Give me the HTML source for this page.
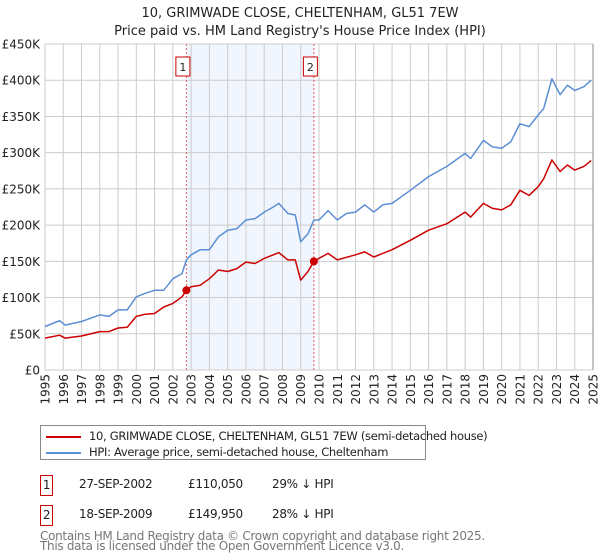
<!DOCTYPE html>
<html><head><meta charset="utf-8"><style>
body{margin:0;background:#fff;font-family:"Liberation Sans","DejaVu Sans",sans-serif;}
#wrap{position:relative;width:600px;height:560px;overflow:hidden;}
text{font-family:"DejaVu Sans","Liberation Sans",sans-serif;}
.tb div{white-space:nowrap;}
</style></head><body><div id="wrap">
<svg id="chart" width="600" height="560"></svg>
</div>
<script>
const yTicks=[0,50,100,150,200,250,300,350,400,450];
const yTickLabels=["£0","£50K","£100K","£150K","£200K","£250K","£300K","£350K","£400K","£450K"];
const xYears=[1995,1996,1997,1998,1999,2000,2001,2002,2003,2004,2005,2006,2007,2008,2009,2010,2011,2012,2013,2014,2015,2016,2017,2018,2019,2020,2021,2022,2023,2024,2025];
const hpiT=[1995,1995.8,1996.1,1997,1998,1998.5,1999,1999.5,2000,2000.5,2001,2001.5,2002,2002.5,2002.74,2003,2003.5,2004,2004.5,2005,2005.5,2006,2006.5,2007,2007.5,2007.8,2008.3,2008.7,2009.0,2009.4,2009.72,2010,2010.5,2011,2011.5,2012,2012.5,2013,2013.5,2014,2015,2016,2017,2018,2018.3,2019,2019.5,2020,2020.5,2021,2021.5,2022,2022.3,2022.75,2023.2,2023.6,2024,2024.5,2024.9];
const hpiV=[60,68,62,67,76,74,83,83,101,106,110,110,126,133,152,159,166,166,184,193,195,207,209,218,225,230,216,214,177,188,207,207,220,207,216,218,228,218,228,230,248,267,281,299,292,317,308,306,315,340,336,352,361,402,380,393,386,391,400];
const saleT=[1995,1995.8,1996.1,1997,1998,1998.5,1999,1999.5,2000,2000.5,2001,2001.5,2002,2002.5,2002.74,2003,2003.5,2004,2004.5,2005,2005.5,2006,2006.5,2007,2007.5,2007.8,2008.3,2008.7,2009.0,2009.4,2009.72,2010,2010.5,2011,2012,2012.5,2013,2014,2015,2016,2017,2018,2018.3,2019,2019.5,2020,2020.5,2021,2021.5,2022,2022.3,2022.75,2023.2,2023.6,2024,2024.5,2024.9];
const saleV=[44,48,44,47,53,53,58,59,74,77,78,87,92,101,110,115,117,126,138,136,140,149,147,154,159,162,152,152,124,136,150,154,161,152,159,163,156,166,179,193,202,218,211,230,223,221,228,248,241,253,264,290,274,283,276,281,289];
const saleDates=[2002.74,2009.72];
const salePrices=[110.05,149.95];
const saleLabels=["1","2"];
const NS="http://www.w3.org/2000/svg";
const svg=document.getElementById('chart');
const L=45,R=593,T=44,B=370;
const x=t=>L+(t-1995)*(R-L)/30;
const y=v=>B-v*(B-T)/450;
function mk(tag,attrs,parent){const e=document.createElementNS(NS,tag);for(const k in attrs)e.setAttribute(k,attrs[k]);(parent||svg).appendChild(e);return e;}
let t1=mk('text',{x:300,y:17,'text-anchor':'middle','font-size':13,fill:'#222'});t1.textContent="10, GRIMWADE CLOSE, CHELTENHAM, GL51 7EW";


let t2=mk('text',{x:300,y:35,'text-anchor':'middle','font-size':13,fill:'#222'});t2.textContent="Price paid vs. HM Land Registry's House Price Index (HPI)";


let sh=mk('rect',{x:x(saleDates[0]),y:T,width:x(saleDates[1])-x(saleDates[0]),height:B-T,fill:'#f1f5fd'});


yTicks.forEach((v,i)=>{
 let g=mk('line',{x1:L,x2:R,y1:y(v),y2:y(v),stroke:'#cccccc','stroke-width':1});
 
 
 let lb=mk('text',{x:40,y:y(v)+4.5,'text-anchor':'end','font-size':12,fill:'#222'});lb.textContent=yTickLabels[i];
 
 
});
xYears.forEach(yr=>{
 let g=mk('line',{x1:x(yr),x2:x(yr),y1:T,y2:B,stroke:'#cccccc','stroke-width':1});
 
 
 let lb=mk('text',{x:0,y:0,'text-anchor':'end','font-size':12,fill:'#222',transform:`translate(${x(yr)+4.5},374) rotate(-90)`});lb.textContent=yr;
 
 
});
let ax=mk('line',{x1:R,x2:R,y1:T,y2:B,stroke:'#888','stroke-width':1});


saleDates.forEach((d,i)=>{
 let vl=mk('line',{x1:x(d),x2:x(d),y1:T,y2:B,stroke:'#e06060','stroke-width':1,'stroke-dasharray':'2,2'});
 
 
 let bx=mk('rect',{x:x(d)-10.5,y:57,width:14,height:19,fill:'#fff',stroke:'#cc0000','stroke-width':1});
 
 
 let tx=mk('text',{x:x(d)-3.5,y:71,'text-anchor':'middle','font-size':11,fill:'#222'});tx.textContent=saleLabels[i];
 
 
});
function path(ts,vs,color,name){
 let d=ts.map((t,i)=>(i?'L':'M')+x(t).toFixed(1)+','+y(vs[i]).toFixed(1)).join('');
 let p=mk('path',{d:d,fill:'none',stroke:color,'stroke-width':1.5,'stroke-linejoin':'round'});
 
 
}
path(hpiT,hpiV,'#5b8fd4','hpi-line');
path(saleT,saleV,'#cc0000','property-price-line');
saleDates.forEach((d,i)=>{
 let c=mk('circle',{cx:x(d),cy:y(salePrices[i]),r:4,fill:'#cc0000'});
 
 
});
</script>
<div style="position:absolute;left:40px;top:425px;width:386px;height:35px;border:1px solid #888;box-sizing:border-box;font-size:11.5px;color:#222;font-family:'DejaVu Sans','Liberation Sans',sans-serif;letter-spacing:-0.3px;">
 <div style="position:absolute;left:5px;top:3px;white-space:nowrap;"><span style="display:inline-block;width:35px;height:2px;background:#cc0000;vertical-align:middle;margin-right:8px;"></span>10, GRIMWADE CLOSE, CHELTENHAM, GL51 7EW (semi-detached house)</div>
 <div style="position:absolute;left:5px;top:19px;white-space:nowrap;"><span style="display:inline-block;width:35px;height:2px;background:#5b8fd4;vertical-align:middle;margin-right:8px;"></span>HPI: Average price, semi-detached house, Cheltenham</div>
</div>
<div class="tb" style="position:absolute;left:0;top:0;width:600px;font-size:12px;color:#222;font-family:'DejaVu Sans','Liberation Sans',sans-serif;letter-spacing:-0.3px;">
 <div>
  <div style="position:absolute;left:40px;top:475px;width:11px;height:19px;border:1px solid #cc0000;text-align:center;line-height:19px;">1</div>
  <div style="position:absolute;left:79px;top:477px;">27-SEP-2002</div>
  <div style="position:absolute;left:188px;top:477px;">£110,050</div>
  <div style="position:absolute;left:272px;top:477px;">29% ↓ HPI</div>
 </div>
 <div>
  <div style="position:absolute;left:40px;top:505px;width:11px;height:19px;border:1px solid #cc0000;text-align:center;line-height:19px;">2</div>
  <div style="position:absolute;left:79px;top:507px;">18-SEP-2009</div>
  <div style="position:absolute;left:188px;top:507px;">£149,950</div>
  <div style="position:absolute;left:272px;top:507px;">28% ↓ HPI</div>
 </div>
</div>
<div style="position:absolute;left:40px;top:531px;font-size:12px;line-height:10px;color:#777;white-space:nowrap;font-family:'DejaVu Sans','Liberation Sans',sans-serif;letter-spacing:-0.3px;">Contains HM Land Registry data © Crown copyright and database right 2025.<br>This data is licensed under the Open Government Licence v3.0.</div>
</body></html>
